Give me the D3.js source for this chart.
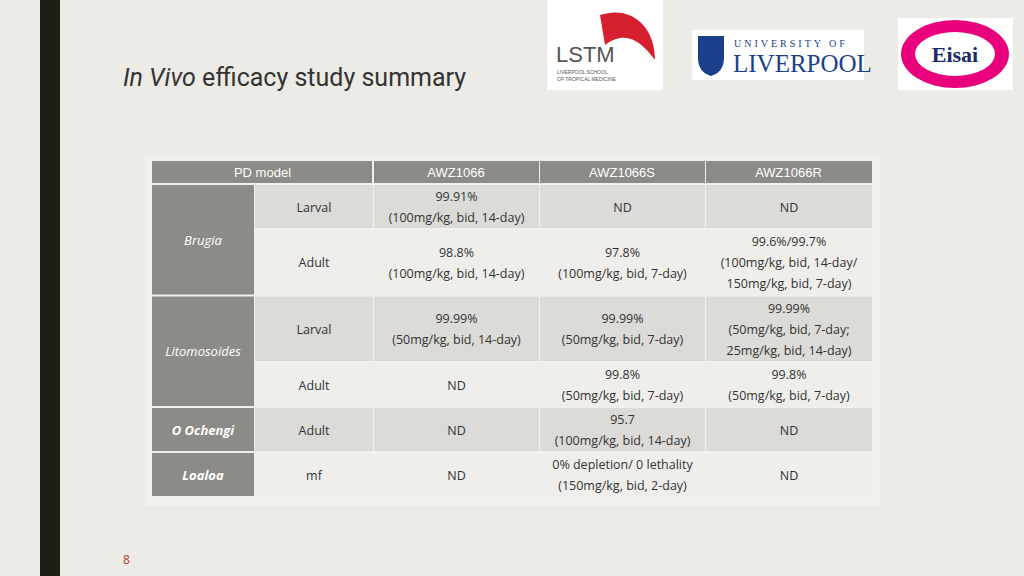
<!DOCTYPE html>
<html><head><meta charset="utf-8">
<script src="https://cdn.jsdelivr.net/npm/d3@7"></script>
<style>body{margin:0;background:#ecebe6;overflow:hidden}</style>
</head><body>
<script>
var width = 1024, height = 576;

var headers = ['PD model', 'AWZ1066', 'AWZ1066S', 'AWZ1066R'];
var groups = [
  {name: 'Brugia', rows: 2, bold: false},
  {name: 'Litomosoides', rows: 2, bold: false},
  {name: 'O Ochengi', rows: 1, bold: true},
  {name: 'Loaloa', rows: 1, bold: true}
];
var stages = ['Larval', 'Adult', 'Larval', 'Adult', 'Adult', 'mf'];
var awz1066 = [
  ['99.91%', '(100mg/kg, bid, 14-day)'],
  ['98.8%', '(100mg/kg, bid, 14-day)'],
  ['99.99%', '(50mg/kg, bid, 14-day)'],
  ['ND'], ['ND'], ['ND']
];
var awz1066S = [
  ['ND'],
  ['97.8%', '(100mg/kg, bid, 7-day)'],
  ['99.99%', '(50mg/kg, bid, 7-day)'],
  ['99.8%', '(50mg/kg, bid, 7-day)'],
  ['95.7', '(100mg/kg, bid, 14-day)'],
  ['0% depletion/ 0 lethality', '(150mg/kg, bid, 2-day)']
];
var awz1066R = [
  ['ND'],
  ['99.6%/99.7%', '(100mg/kg, bid, 14-day/', '150mg/kg, bid, 7-day)'],
  ['99.99%', '(50mg/kg, bid, 7-day;', '25mg/kg, bid, 14-day)'],
  ['99.8%', '(50mg/kg, bid, 7-day)'],
  ['ND'], ['ND']
];

var svg = d3.select('body').append('svg').attr('width', width).attr('height', height);

// left dark bar
svg.append('rect').attr('x', 40).attr('y', 0).attr('width', 20).attr('height', height).attr('fill', '#1d1d16');

svg.append('text').attr('x', 123).attr('y', 86).attr('font-family', 'Roboto, sans-serif')
  .attr('font-size', 25).attr('fill', '#333')
  .html('<tspan font-style="italic">In Vivo</tspan> efficacy study summary');

svg.append('text').attr('x', 123).attr('y', 564).attr('font-family', 'Open Sans').attr('font-size', 12)
  .attr('fill', '#c0392b').text('8');

// logos (approximate)
var lg = svg.append('g');
lg.append('rect').attr('x', 547).attr('y', 0).attr('width', 116).attr('height', 90).attr('fill', '#fff');
lg.append('path').attr('d', 'M600,15 C630,5 655,25 655,60 C640,40 625,30 605,45 Z').attr('fill', '#d62030');
lg.append('text').attr('x', 556).attr('y', 62).attr('font-family', 'Liberation Sans').attr('font-size', 22).attr('fill', '#555').text('LSTM');
lg.append('text').attr('x', 557).attr('y', 74).attr('font-family', 'Liberation Sans').attr('font-size', 5).attr('fill', '#555').text('LIVERPOOL SCHOOL');
lg.append('text').attr('x', 557).attr('y', 81).attr('font-family', 'Liberation Sans').attr('font-size', 5).attr('fill', '#555').text('OF TROPICAL MEDICINE');
lg.append('rect').attr('x', 692).attr('y', 30).attr('width', 172).attr('height', 50).attr('fill', '#fff');
lg.append('path').attr('d', 'M698,36 h26 v22 q0,14 -13,18 q-13,-4 -13,-18 Z').attr('fill', '#1c3f8c');
lg.append('text').attr('x', 734).attr('y', 47).attr('font-family', 'Liberation Serif').attr('font-size', 10).attr('letter-spacing', 3).attr('fill', '#1c3f8c').text('UNIVERSITY OF');
lg.append('text').attr('x', 733).attr('y', 72).attr('font-family', 'Liberation Serif').attr('font-size', 25).attr('fill', '#1c3f8c').text('LIVERPOOL');
lg.append('rect').attr('x', 898).attr('y', 18).attr('width', 115).attr('height', 72).attr('fill', '#fff');
lg.append('ellipse').attr('cx', 955).attr('cy', 54).attr('rx', 54).attr('ry', 34).attr('fill', '#e8007d');
lg.append('ellipse').attr('cx', 955).attr('cy', 54).attr('rx', 40).attr('ry', 22).attr('fill', '#fff');
lg.append('text').attr('x', 955).attr('y', 62).attr('text-anchor', 'middle').attr('font-family', 'Liberation Serif')
  .attr('font-weight', 'bold').attr('font-size', 22).attr('fill', '#1a2a6c').text('Eisai');

// table
svg.append('rect').attr('x', 145).attr('y', 155).attr('width', 735).attr('height', 351).attr('fill', '#f1f0ec');

var colEdges = [152, 254, 373, 539, 705, 872];
var lineH = 21.5, headH = 22, gap = 2, tableTop = 161;
var data = stages.map(function(s, i) {
  return {stage: s, cells: [awz1066[i], awz1066S[i], awz1066R[i]]};
});
var rowH = data.map(function(d) {
  return Math.max(2, d3.max(d.cells, function(c) { return c.length; })) * lineH;
});
var rowY = [];
var acc = tableTop + headH + gap;
rowH.forEach(function(h) { rowY.push(acc); acc += h + gap; });

var dark = '#8d8b85', band = '#dcdbd7', light = '#efeeeb', txt = '#333';
var font = 'Open Sans, sans-serif';

// header
svg.append('rect').attr('x', colEdges[0]).attr('y', tableTop).attr('width', colEdges[2] - colEdges[0] - 1).attr('height', headH).attr('fill', dark);
for (var c = 2; c < 5; c++)
  svg.append('rect').attr('x', colEdges[c] + 1).attr('y', tableTop).attr('width', colEdges[c + 1] - colEdges[c] - 1).attr('height', headH).attr('fill', dark);
var hx = [(colEdges[0] + colEdges[2]) / 2, (colEdges[2] + colEdges[3]) / 2, (colEdges[3] + colEdges[4]) / 2, (colEdges[4] + colEdges[5]) / 2];
headers.forEach(function(h, i) {
  svg.append('text').attr('x', hx[i]).attr('y', tableTop + 16).attr('text-anchor', 'middle')
    .attr('font-family', 'Liberation Sans').attr('font-size', 13).attr('fill', '#fff').text(h);
});

// group cells
var gi = 0;
groups.forEach(function(g) {
  var y0 = rowY[gi], y1 = rowY[gi + g.rows - 1] + rowH[gi + g.rows - 1];
  svg.append('rect').attr('x', colEdges[0]).attr('y', y0).attr('width', colEdges[1] - colEdges[0]).attr('height', y1 - y0).attr('fill', dark);
  svg.append('text').attr('x', (colEdges[0] + colEdges[1]) / 2).attr('y', (y0 + y1) / 2 + 5)
    .attr('text-anchor', 'middle').attr('font-family', font).attr('font-size', 13)
    .attr('font-style', 'italic').attr('font-weight', g.bold ? 'bold' : 'normal').attr('fill', '#fff').text(g.name);
  gi += g.rows;
});

// body rows
var rows = svg.selectAll('g.row').data(data).enter().append('g').attr('class', 'row');
rows.each(function(d, i) {
  var g = d3.select(this);
  var fill = i % 2 === 0 ? band : light;
  var cells = [[d.stage]].concat(d.cells);
  cells.forEach(function(lines, j) {
    var x0 = colEdges[j + 1] + 1, x1 = colEdges[j + 2];
    g.append('rect').attr('x', x0).attr('y', rowY[i]).attr('width', x1 - x0).attr('height', rowH[i]).attr('fill', fill);
    var cy = rowY[i] + rowH[i] / 2;
    lines.forEach(function(l, k) {
      g.append('text').attr('x', (x0 + x1) / 2).attr('y', cy + (k - (lines.length - 1) / 2) * 21 + 5)
        .attr('text-anchor', 'middle').attr('font-family', font).attr('font-size', 12.5).attr('fill', txt).text(l);
    });
  });
});
</script>
</body></html>
